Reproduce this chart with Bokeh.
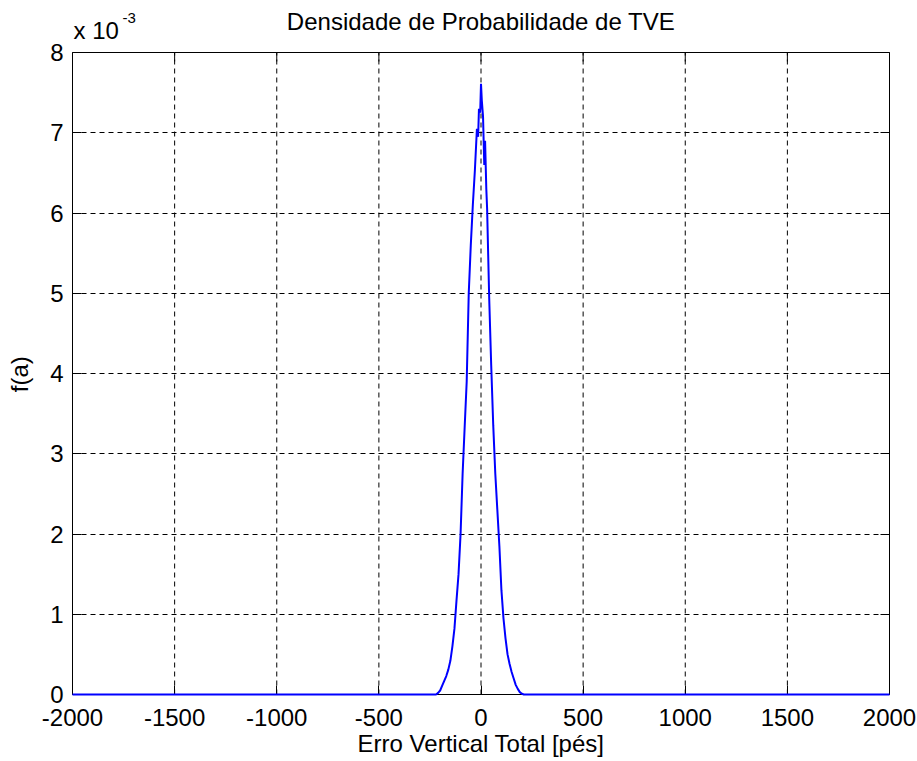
from bokeh.plotting import figure
from bokeh.models import LinearAxis, Label, FixedTicker, Range1d, Span
from bokeh.embed import file_html
from bokeh.resources import INLINE

# Erro Vertical Total [pés]
x_ft = [-2000, -220, -210, -200, -190, -180, -170, -160, -150, -140, -130, -120, -110, -100,
        -90, -80, -70, -60, -50, -40, -30, -20, -14, -10, -4, 0, 4, 10, 16, 20, 26, 30,
        40, 50, 60, 70, 80, 90, 100, 110, 120, 130, 140, 150, 160, 170, 180, 190, 200, 210, 2000]
# f(a) in units of 1e-3
f_a_e3 = [0, 0, 0.02, 0.05, 0.11, 0.17, 0.23, 0.31, 0.42, 0.6, 0.82, 1.17, 1.5, 2.0,
          2.75, 3.33, 3.9, 5.0, 5.6, 6.1, 6.53, 7.05, 6.95, 7.3, 7.25, 7.61, 7.4, 7.2, 6.6, 6.9, 6.3, 6.05,
          4.95, 4.1, 3.35, 2.75, 2.3, 1.85, 1.3, 0.95, 0.7, 0.5, 0.38, 0.28, 0.2, 0.12, 0.07, 0.03, 0.01, 0, 0]

x_ticks = [-2000, -1500, -1000, -500, 0, 500, 1000, 1500, 2000]
y_ticks = [0, 1, 2, 3, 4, 5, 6, 7, 8]
Y_MAX = 8

FONT = "Liberation Sans"
TICK_SIZE = "24px"
DASH = "5 4"

# layout geometry (pixels)
W, H = 917, 761
LEFT, RIGHT, BOTTOM = 72, 28, 67
BOX_TOP = 52            # pixel row of the top of the axes box
TICK = 9
px_per_unit = (H - BOTTOM - BOX_TOP) / Y_MAX
y_top = Y_MAX + BOX_TOP / px_per_unit          # frame reaches the top of the canvas

p = figure(width=W, height=H, output_backend="svg", toolbar_location=None,
           title_location=None,
           x_range=Range1d(x_ticks[0], x_ticks[-1]), y_range=Range1d(0, y_top),
           min_border_left=LEFT, min_border_right=RIGHT, min_border_top=0,
           min_border_bottom=BOTTOM)
p.background_fill_color = "white"
p.border_fill_color = "white"
p.outline_line_color = None

for ax in (p.xaxis[0], p.yaxis[0]):
    ax.major_label_text_font = FONT
    ax.major_label_text_font_size = TICK_SIZE
    ax.major_label_text_color = "black"
    ax.axis_label_text_font = FONT
    ax.axis_label_text_font_size = "24px"
    ax.axis_label_text_font_style = "normal"
    ax.axis_label_text_color = "black"
    ax.major_tick_in = TICK
    ax.major_tick_out = 0
    ax.minor_tick_in = 0
    ax.minor_tick_out = 0
    ax.axis_line_color = "black"
    ax.major_tick_line_color = "black"

p.xaxis[0].ticker = FixedTicker(ticks=x_ticks)
p.yaxis[0].ticker = FixedTicker(ticks=y_ticks)
p.yaxis[0].bounds = (0, Y_MAX)
p.xaxis[0].major_label_overrides = {t: str(t) for t in x_ticks}
p.xaxis[0].axis_label = "Erro Vertical Total [pés]"
# non-breaking padding keeps the label centred on the 0..8 box rather than the taller frame
p.yaxis[0].axis_label = "f(a)" + "\u00a0" * 8
p.xaxis[0].major_label_standoff = 14
p.yaxis[0].major_label_standoff = 9
p.xaxis[0].axis_label_standoff = 1
p.yaxis[0].axis_label_standoff = 14

rax = LinearAxis(ticker=FixedTicker(ticks=y_ticks), bounds=(0, Y_MAX))
rax.major_label_text_font_size = "0px"
rax.major_label_text_color = None
rax.major_tick_in = TICK
rax.major_tick_out = 0
rax.minor_tick_in = 0
rax.minor_tick_out = 0
rax.major_label_standoff = 0
rax.axis_line_color = "black"
rax.major_tick_line_color = "black"
p.add_layout(rax, "right")

# horizontal grid from the library; vertical grid limited to the 0..8 box
p.xgrid.visible = False
p.ygrid.ticker = FixedTicker(ticks=y_ticks)
p.ygrid.grid_line_color = "black"
p.ygrid.grid_line_dash = DASH
p.ygrid.grid_line_width = 1
p.ygrid.bounds = (x_ticks[0], x_ticks[-1])
p.segment(x0=x_ticks, y0=[0] * len(x_ticks), x1=x_ticks, y1=[Y_MAX] * len(x_ticks),
          line_color="black", line_width=1, line_dash=DASH)

# top edge of the axes box with inward ticks
p.add_layout(Span(location=Y_MAX, dimension="width", line_color="black", line_width=1))
p.segment(x0=x_ticks, y0=[Y_MAX] * len(x_ticks), x1=x_ticks,
          y1=[Y_MAX - TICK / px_per_unit] * len(x_ticks), line_color="black", line_width=1)

r = p.line(x_ft, f_a_e3, line_color="#0000ff", line_width=2)
r.level = "overlay"

def y_at(pix):
    return (H - BOTTOM - pix) / px_per_unit

def x_at(pix):
    return x_ticks[0] + (pix - LEFT) * (x_ticks[-1] - x_ticks[0]) / (W - LEFT - RIGHT)

p.add_layout(Label(x=0, y=y_at(21), text="Densidade de Probabilidade de TVE",
                   text_font=FONT, text_font_size="24px", text_color="black",
                   text_align="center", text_baseline="alphabetic"))
p.add_layout(Label(x=x_at(73), y=y_at(30), text="x 10",
                   text_font=FONT, text_font_size=TICK_SIZE, text_color="black",
                   text_baseline="alphabetic"))
p.add_layout(Label(x=x_at(122), y=y_at(17), text="-3",
                   text_font=FONT, text_font_size="15px", text_color="black",
                   text_baseline="alphabetic"))

open("out.html", "w").write(file_html(p, INLINE))
